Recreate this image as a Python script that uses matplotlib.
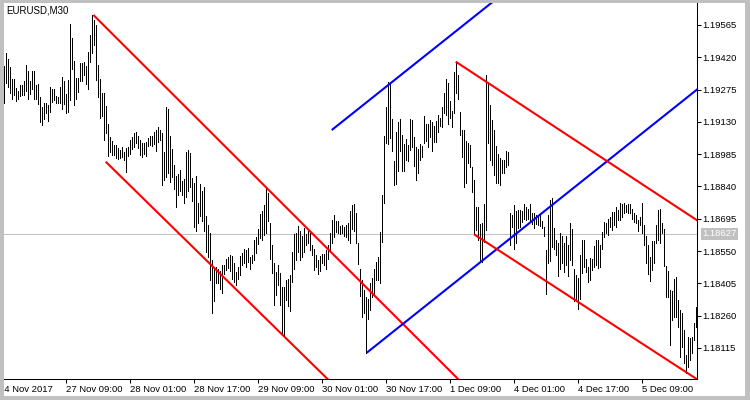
import matplotlib
matplotlib.use('Agg')
import matplotlib.pyplot as plt
import pandas as pd

plt.rcParams['font.family'] = ['Liberation Sans', 'DejaVu Sans']

symbol_title = 'EURUSD,M30'
first_bar_time = '2017-11-24 17:30'

highs = [
    1.19381, 1.19439, 1.19412, 1.19376, 1.19322, 1.19322, 1.19282, 1.19268, 1.19295, 1.19295,
    1.19313, 1.19385, 1.19358, 1.19313, 1.19358, 1.19358, 1.19295, 1.19300, 1.19241, 1.19197,
    1.19215, 1.19215, 1.19206, 1.19286, 1.19277, 1.19277, 1.19246, 1.19241, 1.19286, 1.19331,
    1.19313, 1.19255, 1.19318, 1.19569, 1.19506, 1.19403, 1.19327, 1.19327, 1.19394, 1.19394,
    1.19399, 1.19381, 1.19444, 1.19520, 1.19610, 1.19587, 1.19565, 1.19385, 1.19322, 1.19259,
    1.19259, 1.19201, 1.19120, 1.19062, 1.19044, 1.19026, 1.19026, 1.19012, 1.19003, 1.19017,
    1.18994, 1.19012, 1.19017, 1.19048, 1.19062, 1.19080, 1.19084, 1.19066, 1.19048, 1.19035,
    1.19035, 1.19039, 1.19057, 1.19066, 1.19066, 1.19084, 1.19093, 1.19107, 1.19093, 1.19080,
    1.18994, 1.19197, 1.19188, 1.19066, 1.19008, 1.18936, 1.18887, 1.18896, 1.18914, 1.18864,
    1.18873, 1.18994, 1.19003, 1.18990, 1.18878, 1.18855, 1.18887, 1.18765, 1.18851, 1.18819,
    1.18837, 1.18707, 1.18667, 1.18631, 1.18510, 1.18478, 1.18478, 1.18469, 1.18460, 1.18487,
    1.18487, 1.18514, 1.18523, 1.18532, 1.18528, 1.18496, 1.18456, 1.18478, 1.18528, 1.18541,
    1.18559, 1.18555, 1.18564, 1.18523, 1.18532, 1.18599, 1.18613, 1.18649, 1.18716, 1.18730,
    1.18757, 1.18828, 1.18810, 1.18676, 1.18577, 1.18496, 1.18456, 1.18487, 1.18451, 1.18388,
    1.18388, 1.18420, 1.18424, 1.18442, 1.18545, 1.18626, 1.18631, 1.18662, 1.18640, 1.18617,
    1.18653, 1.18626, 1.18649, 1.18631, 1.18577, 1.18559, 1.18532, 1.18510, 1.18528, 1.18537,
    1.18537, 1.18555, 1.18577, 1.18631, 1.18689, 1.18712, 1.18685, 1.18685, 1.18662, 1.18667,
    1.18658, 1.18667, 1.18676, 1.18730, 1.18757, 1.18761, 1.18721, 1.18586, 1.18469, 1.18420,
    1.18375, 1.18344, 1.18335, 1.18406, 1.18429, 1.18469, 1.18501, 1.18523, 1.18635, 1.18801,
    1.19066, 1.19197, 1.19309, 1.19304, 1.19143, 1.18954, 1.19084, 1.19129, 1.19143, 1.19071,
    1.19030, 1.19053, 1.19026, 1.19143, 1.19138, 1.19062, 1.19017, 1.19008, 1.19030, 1.19021,
    1.19156, 1.19120, 1.19120, 1.19138, 1.19129, 1.19111, 1.19134, 1.19161, 1.19147, 1.19197,
    1.19259, 1.19322, 1.19304, 1.19223, 1.19179, 1.19354, 1.19399, 1.19340, 1.19174, 1.19093,
    1.19093, 1.19044, 1.19035, 1.19026, 1.18927, 1.18869, 1.18748, 1.18748, 1.18671, 1.18676,
    1.18761, 1.19340, 1.19309, 1.19206, 1.19138, 1.19093, 1.19021, 1.18986, 1.18968, 1.18959,
    1.18959, 1.18999, 1.18994, 1.18721, 1.18712, 1.18757, 1.18730, 1.18734, 1.18734, 1.18730,
    1.18761, 1.18748, 1.18739, 1.18761, 1.18721, 1.18721, 1.18712, 1.18712, 1.18712, 1.18685,
    1.18658, 1.18555, 1.18712, 1.18779, 1.18788, 1.18653, 1.18599, 1.18586, 1.18631, 1.18617,
    1.18586, 1.18617, 1.18577, 1.18676, 1.18649, 1.18469, 1.18442, 1.18429, 1.18532, 1.18599,
    1.18599, 1.18514, 1.18478, 1.18519, 1.18514, 1.18573, 1.18599, 1.18599, 1.18577, 1.18635,
    1.18680, 1.18676, 1.18694, 1.18703, 1.18725, 1.18725, 1.18748, 1.18734, 1.18765, 1.18761,
    1.18765, 1.18757, 1.18761, 1.18761, 1.18739, 1.18721, 1.18712, 1.18689, 1.18703, 1.18765,
    1.18667, 1.18617, 1.18577, 1.18523, 1.18595, 1.18595, 1.18667, 1.18734, 1.18739, 1.18676,
    1.18649, 1.18483, 1.18460, 1.18375, 1.18370, 1.18424, 1.18433, 1.18330, 1.18285, 1.18272,
    1.18195, 1.18083, 1.18164, 1.18159, 1.18164, 1.18227, 1.18299,
]

lows = [
    1.19215, 1.19304, 1.19286, 1.19259, 1.19232, 1.19250, 1.19223, 1.19232, 1.19246, 1.19250,
    1.19250, 1.19268, 1.19232, 1.19255, 1.19277, 1.19232, 1.19232, 1.19210, 1.19129, 1.19116,
    1.19143, 1.19170, 1.19134, 1.19174, 1.19219, 1.19228, 1.19215, 1.19215, 1.19215, 1.19188,
    1.19210, 1.19170, 1.19174, 1.19228, 1.19367, 1.19206, 1.19232, 1.19264, 1.19313, 1.19313,
    1.19340, 1.19300, 1.19277, 1.19399, 1.19439, 1.19475, 1.19318, 1.19241, 1.19147, 1.19156,
    1.19048, 1.19080, 1.18977, 1.18994, 1.18981, 1.18981, 1.18968, 1.18963, 1.18968, 1.18972,
    1.18959, 1.18905, 1.18977, 1.18986, 1.19008, 1.19017, 1.19035, 1.19012, 1.18981, 1.18972,
    1.18986, 1.18977, 1.19021, 1.19026, 1.19021, 1.19030, 1.18999, 1.19039, 1.19048, 1.18846,
    1.18869, 1.18882, 1.18900, 1.18860, 1.18882, 1.18828, 1.18748, 1.18801, 1.18819, 1.18801,
    1.18765, 1.18792, 1.18819, 1.18837, 1.18774, 1.18658, 1.18640, 1.18676, 1.18707, 1.18685,
    1.18640, 1.18545, 1.18523, 1.18420, 1.18272, 1.18325, 1.18406, 1.18406, 1.18379, 1.18361,
    1.18447, 1.18465, 1.18474, 1.18460, 1.18424, 1.18411, 1.18397, 1.18424, 1.18442, 1.18487,
    1.18496, 1.18478, 1.18501, 1.18469, 1.18496, 1.18510, 1.18541, 1.18581, 1.18608, 1.18599,
    1.18622, 1.18631, 1.18685, 1.18514, 1.18451, 1.18307, 1.18352, 1.18397, 1.18307, 1.18173,
    1.18173, 1.18330, 1.18303, 1.18281, 1.18411, 1.18469, 1.18510, 1.18545, 1.18510, 1.18523,
    1.18545, 1.18577, 1.18586, 1.18555, 1.18532, 1.18465, 1.18478, 1.18447, 1.18460, 1.18496,
    1.18487, 1.18469, 1.18514, 1.18555, 1.18586, 1.18613, 1.18635, 1.18631, 1.18626, 1.18631,
    1.18617, 1.18613, 1.18599, 1.18586, 1.18649, 1.18640, 1.18586, 1.18492, 1.18348, 1.18254,
    1.18272, 1.18092, 1.18245, 1.18285, 1.18344, 1.18352, 1.18420, 1.18420, 1.18406, 1.18590,
    1.18765, 1.19035, 1.19030, 1.19057, 1.18999, 1.18846, 1.18851, 1.18909, 1.18999, 1.18909,
    1.18909, 1.18959, 1.18954, 1.19003, 1.19017, 1.18932, 1.18869, 1.18900, 1.18959, 1.18972,
    1.19035, 1.19044, 1.19017, 1.19062, 1.18999, 1.19039, 1.19039, 1.19084, 1.19111, 1.19107,
    1.19170, 1.19161, 1.19120, 1.19147, 1.19107, 1.19170, 1.19259, 1.19232, 1.19071, 1.18972,
    1.18837, 1.18855, 1.18945, 1.18927, 1.18815, 1.18631, 1.18644, 1.18599, 1.18505, 1.18501,
    1.18590, 1.18644, 1.19035, 1.18959, 1.18936, 1.18891, 1.18855, 1.18855, 1.18846, 1.18900,
    1.18900, 1.18927, 1.18936, 1.18577, 1.18658, 1.18559, 1.18586, 1.18653, 1.18658, 1.18680,
    1.18694, 1.18689, 1.18694, 1.18689, 1.18671, 1.18653, 1.18671, 1.18667, 1.18662, 1.18653,
    1.18617, 1.18357, 1.18496, 1.18505, 1.18568, 1.18559, 1.18532, 1.18438, 1.18469, 1.18496,
    1.18456, 1.18487, 1.18438, 1.18510, 1.18487, 1.18325, 1.18330, 1.18290, 1.18335, 1.18451,
    1.18478, 1.18456, 1.18411, 1.18420, 1.18465, 1.18478, 1.18487, 1.18474, 1.18478, 1.18559,
    1.18613, 1.18631, 1.18622, 1.18658, 1.18644, 1.18667, 1.18658, 1.18689, 1.18689, 1.18703,
    1.18721, 1.18725, 1.18721, 1.18721, 1.18694, 1.18680, 1.18676, 1.18640, 1.18667, 1.18631,
    1.18577, 1.18496, 1.18447, 1.18415, 1.18465, 1.18496, 1.18586, 1.18599, 1.18586, 1.18631,
    1.18483, 1.18344, 1.18344, 1.18128, 1.18240, 1.18254, 1.18254, 1.18209, 1.18074, 1.18119,
    1.18047, 1.18002, 1.18029, 1.18061, 1.18092, 1.18150, 1.18209,
]

price_ticks = [1.19565, 1.19420, 1.19275, 1.19130, 1.18985, 1.18840,
               1.18695, 1.18550, 1.18405, 1.18260, 1.18115]
time_tick_labels = ['27 Nov 09:00', '28 Nov 01:00', '28 Nov 17:00', '29 Nov 09:00',
                    '30 Nov 01:00', '30 Nov 17:00', '1 Dec 09:00', '4 Dec 01:00',
                    '4 Dec 17:00', '5 Dec 09:00']
first_label = '24 Nov 2017'
current_price = 1.18627

# trend lines: (bar index, price) anchors, extended to the right as rays
trend_lines = [
    ((44.67, 1.19610), (226.5, 1.17980), '#ff0000'),
    ((50.85, 1.18951), (161.35, 1.17979), '#ff0000'),
    ((163.85, 1.19093), (243.85, 1.19665), '#0000ff'),
    ((181.35, 1.18093), (346.65, 1.19276), '#0000ff'),
    ((225.85, 1.19400), (346.35, 1.18689), '#ff0000'),
    ((235.0, 1.18625), (346.35, 1.17975), '#ff0000'),
]

# bar times (M30, no weekend bars)
times = []
t = pd.Timestamp(first_bar_time)
while len(times) < len(highs):
    if t.weekday() < 5:
        times.append(t)
    t += pd.Timedelta(minutes=30)
idx = list(range(len(highs)))

def fmt(ts):
    return f'{ts.day} {ts.strftime("%b")} {ts.strftime("%H:%M")}'

tick_pos = [i for i, ts in enumerate(times) if fmt(ts) in time_tick_labels]
tick_lab = [fmt(times[i]) for i in tick_pos]

W, H = 750, 400
fig = plt.figure(figsize=(7.5, 4), dpi=100, facecolor='#c0c0c0')

bg = fig.add_axes([3.7 / W, 4 / H, (745 - 3.7) / W, (396 - 2.7) / H])
bg.set_facecolor('white')
bg.set_xticks([]); bg.set_yticks([])
for s in bg.spines.values():
    s.set_visible(False)

ax = fig.add_axes([3.7 / W, 21 / H, (697.3 - 3.7) / W, 376 / H])
ax.set_facecolor('none')
ax.set_xlim(-0.15, 346.65)
ax.set_ylim(1.179753, 1.196635)

ax.axhline(current_price, color='#c0c0c0', lw=0.72, zorder=1)
ax.vlines(idx, lows, highs, colors='black', linewidth=0.55, antialiased=False, zorder=2)

for (x1, p1), (x2, p2), c in trend_lines:
    slope = (p2 - p1) / (x2 - x1)
    xe = 400
    ax.plot([x1, xe], [p1, p1 + slope * (xe - x1)], color=c, lw=1.5,
            solid_capstyle='butt', zorder=3)

for s in ['left', 'top']:
    ax.spines[s].set_visible(False)
for s in ['right', 'bottom']:
    ax.spines[s].set_linewidth(0.75)
    ax.spines[s].set_color('black')

ax.yaxis.tick_right()
ax.set_yticks(price_ticks)
ax.set_yticklabels([f'{v:.5f}' for v in price_ticks])
ax.set_xticks(tick_pos)
ax.set_xticklabels(tick_lab)
ax.tick_params(axis='y', direction='out', length=2.9, width=0.75, pad=0.6,
               labelsize=6.8, colors='black')
ax.tick_params(axis='x', direction='out', length=2.9, width=0.75, pad=1.1,
               labelsize=6.8, colors='black')
for lbl in ax.get_xticklabels():
    lbl.set_ha('left')

ax.annotate(symbol_title, xy=(0, 1), xycoords='axes fraction', xytext=(2.0, -7.4),
            textcoords='offset points', ha='left', va='baseline', fontsize=7)

ax.annotate(f'{current_price:.5f}', xy=(1, current_price),
            xycoords=('axes fraction', 'data'), xytext=(3.6, 0),
            textcoords='offset points', ha='left', va='center', color='white',
            fontsize=6.8, annotation_clip=False,
            bbox=dict(boxstyle='square,pad=0.15', fc='#c0c0c0', ec='none'))

t0 = ax.annotate(first_label, xy=(0, 0), xycoords='axes fraction', xytext=(-3.2, -4.0),
                 textcoords='offset points', ha='left', va='top', fontsize=6.8,
                 annotation_clip=False)
t0.set_clip_path(bg.patch)

fig.savefig('out.png', dpi=100, facecolor=fig.get_facecolor())
